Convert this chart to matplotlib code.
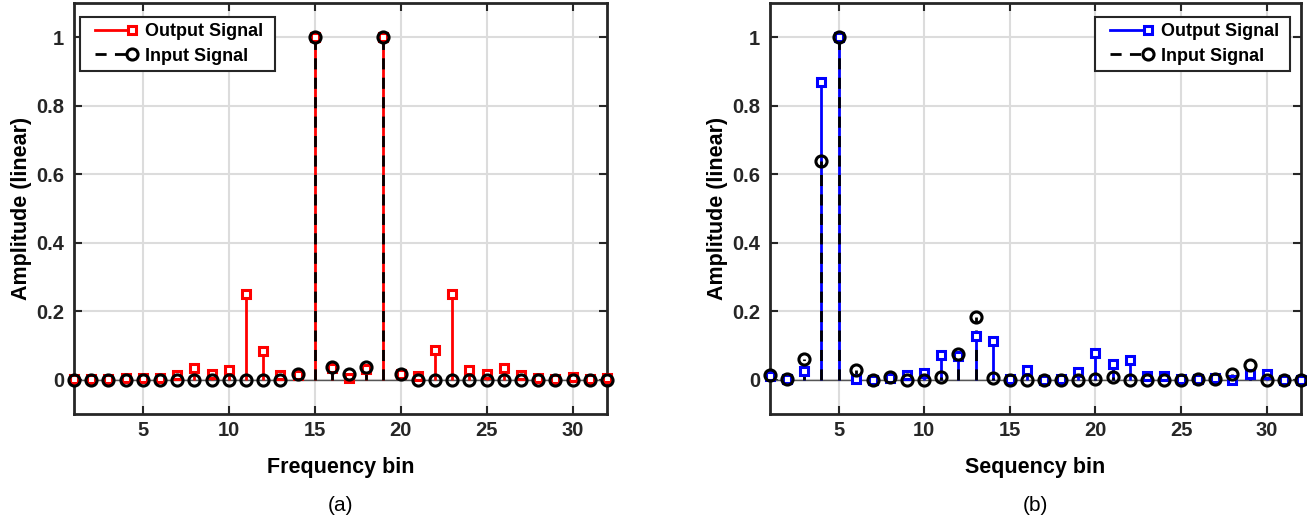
import numpy as np
import matplotlib
matplotlib.use("Agg")
import matplotlib.pyplot as plt
from matplotlib.legend_handler import HandlerLine2D

plt.rcParams['font.family'] = ['Liberation Sans', 'DejaVu Sans']

bins = np.arange(1, 33)

# (a) frequency domain
freq_out = [0.003, 0.003, 0.002, 0.005, 0.005, 0.005, 0.015, 0.033, 0.016, 0.028,
            0.25, 0.085, 0.013, 0.015, 1.0, 0.033, 0.005, 0.03, 1.0, 0.016,
            0.012, 0.087, 0.25, 0.028, 0.018, 0.033, 0.015, 0.005, 0.003, 0.007,
            0.003, 0.005]
freq_in = [0, 0, 0, 0, 0, 0, 0, 0, 0, 0,
           0, 0, 0, 0.016, 1.0, 0.036, 0.016, 0.036, 1.0, 0.016,
           0, 0, 0, 0, 0, 0, 0, 0, 0, 0,
           0, 0]

# (b) sequency domain
seq_out = [0.01, 0.003, 0.027, 0.87, 1.0, 0.002, 0.0, 0.005, 0.014, 0.02,
           0.071, 0.07, 0.129, 0.114, 0.003, 0.029, 0.0, 0.003, 0.024, 0.078,
           0.046, 0.058, 0.01, 0.012, 0.003, 0.002, 0.006, -0.002, 0.018, 0.016,
           0.0, 0.0]
seq_in = [0.015, 0.002, 0.061, 0.639, 1.0, 0.029, 0.0, 0.008, 0.0, 0.0,
          0.008, 0.074, 0.184, 0.006, 0.0, 0.0, 0.0, 0.0, 0.0, 0.003,
          0.008, 0.0, 0.0, 0.0, 0.0, 0.003, 0.003, 0.017, 0.042, 0.0,
          0.0, 0.0]

fig = plt.figure(figsize=(13.07, 5.22), dpi=100)
W, H = 1307, 522
ax1 = fig.add_axes([74 / W, 1 - 414 / H, (607 - 74) / W, (414 - 3) / H])
ax2 = fig.add_axes([770 / W, 1 - 414 / H, (1301 - 770) / W, (414 - 3) / H])

axcol = '#262626'


# legend handle: line indented a little, marker at its right end (MATLAB style)
class EndMarkerHandler(HandlerLine2D):
    def create_artists(self, *args, **kwargs):
        arts = super().create_artists(*args, **kwargs)
        line = arts[0]
        x = line.get_xdata()
        line.set_xdata(np.linspace(x[0] + 6, x[-1], 3))
        line.set_markevery([2])
        return arts


def draw(ax, out, inp, col, xlabel, tag, loc, anchor):
    ml, sl, bl = ax.stem(bins, out, linefmt='-', markerfmt='s', basefmt=' ')
    plt.setp(sl, color=col, linewidth=2)
    plt.setp(ml, color=col, markerfacecolor='white', markeredgecolor=col,
             markersize=6, markeredgewidth=2.2, clip_on=False, zorder=3)
    ml2, sl2, bl2 = ax.stem(bins, inp, linefmt='--', markerfmt='o', basefmt=' ')
    plt.setp(sl2, color='black', linewidth=2, linestyle=(0, (4, 3)))
    plt.setp(ml2, color='black', markerfacecolor='none', markeredgecolor='black',
             markersize=8, markeredgewidth=2.2, clip_on=False, zorder=4)
    ax.axhline(0, color='#555555', linewidth=1, zorder=1)

    ax.set_xlim(1, 32)
    ax.set_ylim(-0.1, 1.1)
    ax.set_xticks([5, 10, 15, 20, 25, 30])
    ax.set_yticks([0, 0.2, 0.4, 0.6, 0.8, 1])
    ax.set_yticklabels(['0', '0.2', '0.4', '0.6', '0.8', '1'])
    ax.grid(True, color='#dcdcdc', linewidth=1.5)
    ax.set_axisbelow(True)
    ax.tick_params(direction='in', length=6, width=1.5, colors=axcol,
                   labelsize=14.5, top=True, right=True)
    ax.tick_params(axis='y', pad=7)
    ax.tick_params(axis='x', pad=5)
    for t in ax.get_xticklabels() + ax.get_yticklabels():
        t.set_fontweight('bold')
    for s in ax.spines.values():
        s.set_color(axcol)
        s.set_linewidth(2)
    ax.set_xlabel(xlabel, fontsize=15.5, fontweight='bold', labelpad=12)
    ax.set_ylabel('Amplitude (linear)', fontsize=15.5, fontweight='bold', labelpad=3)

    handles = [
        plt.Line2D([], [], color=col, linewidth=2, marker='s', markersize=6,
                   markerfacecolor='white', markeredgecolor=col, markeredgewidth=2.2),
        plt.Line2D([], [], color='black', linewidth=2, linestyle=(0, (4, 3)),
                   marker='o', markersize=8, markerfacecolor='none',
                   markeredgecolor='black', markeredgewidth=2.2),
    ]
    leg = ax.legend(handles, ['Output Signal ', 'Input Signal '], loc=loc,
                    bbox_to_anchor=anchor, bbox_transform=ax.transAxes,
                    prop={'weight': 'bold', 'size': 13}, fancybox=False,
                    edgecolor=axcol, framealpha=1, handlelength=2.55,
                    borderpad=0.35, labelspacing=0.4, handletextpad=0.72,
                    borderaxespad=0, numpoints=1,
                    handler_map={plt.Line2D: EndMarkerHandler()})
    leg.get_frame().set_linewidth(1.5)
    ax.text(0.5, -0.2, tag, transform=ax.transAxes, ha='center', va='top',
            fontsize=15)


draw(ax1, freq_out, freq_in, 'red', 'Frequency bin', '(a)', 'upper left',
     (6 / 533, 1 - 14 / 411))
draw(ax2, seq_out, seq_in, 'blue', 'Sequency bin', '(b)', 'upper right',
     (1 - 11 / 531, 1 - 14 / 411))

fig.savefig('out.png', dpi=100)
